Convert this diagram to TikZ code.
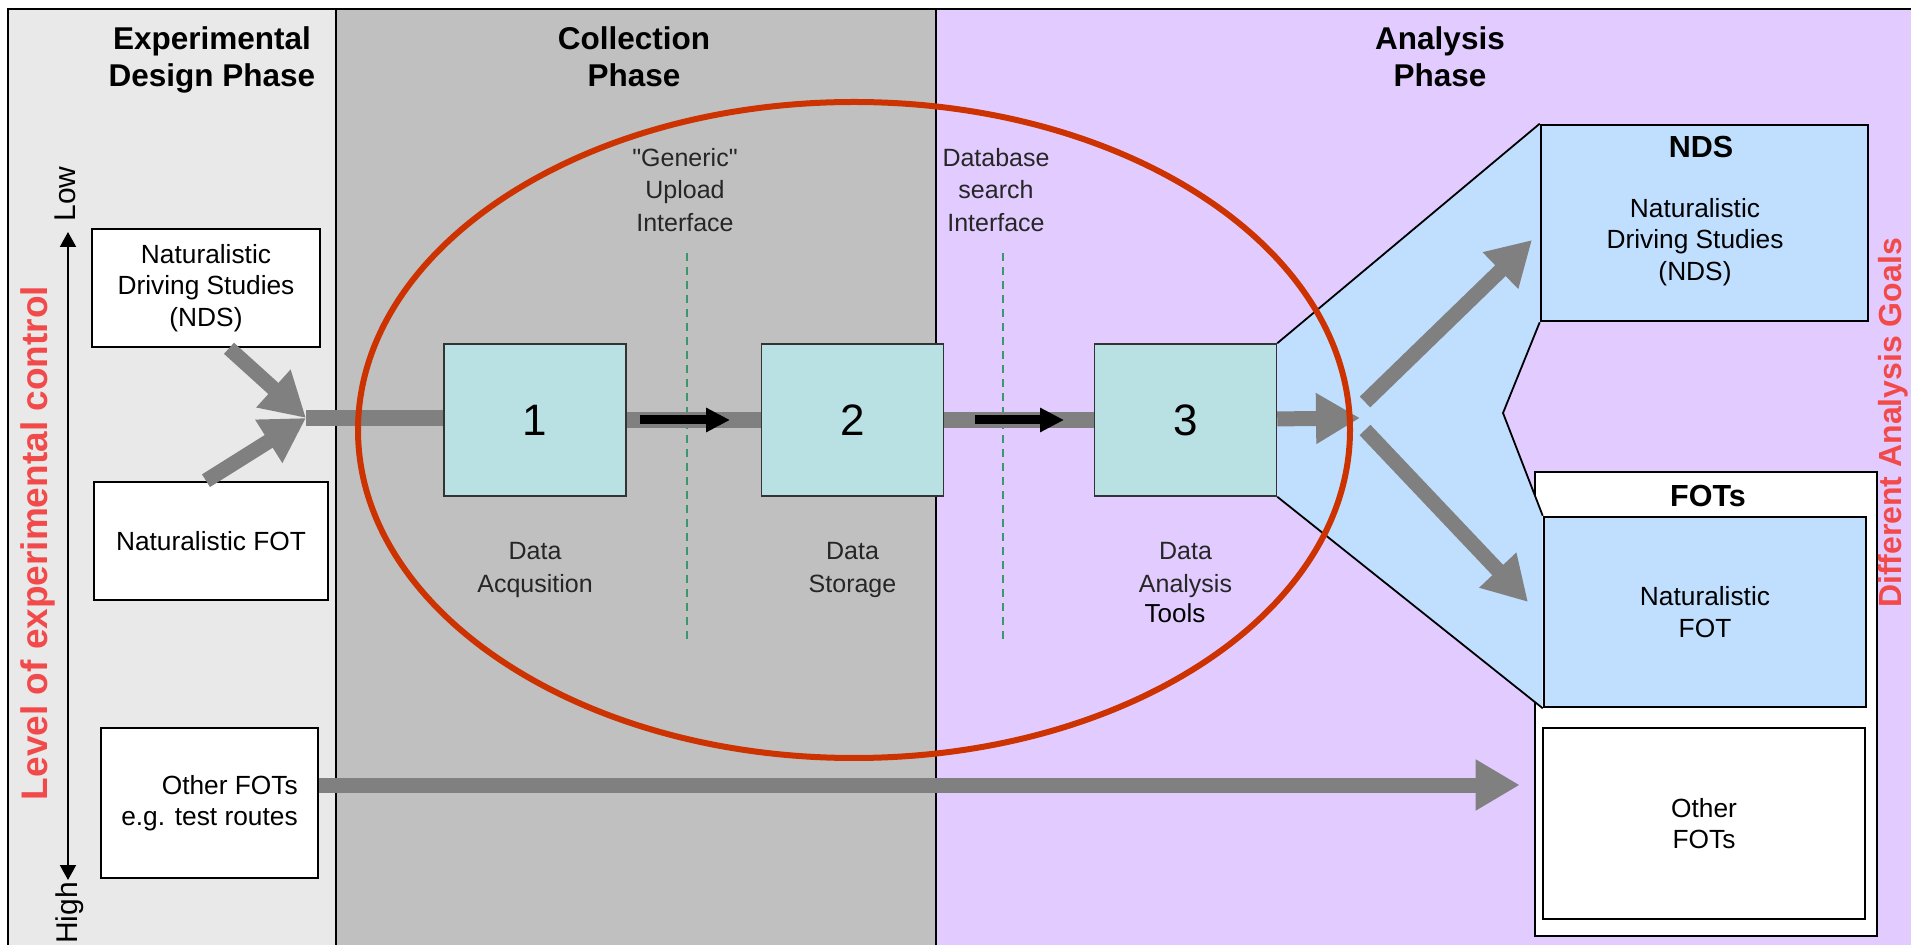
\documentclass[tikz,border=0pt]{standalone}
\usepackage{fontspec}
\setmainfont{Liberation Sans}
\usepackage{tikz}
\usetikzlibrary{arrows.meta,positioning}
\usepackage{xcolor}
\definecolor{designgray}{RGB}{233,233,233}
\definecolor{collectgray}{RGB}{192,192,192}
\definecolor{lavender}{RGB}{226,204,255}
\definecolor{tealbox}{RGB}{185,224,227}
\definecolor{goalblue}{RGB}{192,223,254}
\definecolor{flowgray}{RGB}{128,128,128}
\definecolor{ringred}{RGB}{204,51,0}
\definecolor{axisred}{RGB}{242,74,74}
\definecolor{dashgreen}{RGB}{60,150,110}
\newcommand{\sq}{\XeTeXglyph\XeTeXcharglyph34\relax}
\pgfdeclarelayer{back}
\pgfdeclarelayer{mid}
\pgfsetlayers{back,mid,main}
\tikzstyle{phase} = [font=\fontsize{15.75}{18.5}\selectfont\bfseries, align=center]
\tikzstyle{study} = [rectangle, draw, line width=1.3pt, fill=white, align=center, font=\fontsize{13.15}{15.8}\selectfont]
\tikzstyle{goal} = [study, fill=goalblue]
\tikzstyle{block} = [rectangle, draw=black!80, line width=0.75pt, fill=tealbox, minimum width=91pt, minimum height=76pt, font=\fontsize{22}{22}\selectfont]
\tikzstyle{note} = [align=center, text=black!85, font=\fontsize{12.5}{16.5}\selectfont]
\tikzstyle{title} = [font=\fontsize{15.25}{18}\selectfont\bfseries]
\tikzstyle{axislabel} = [rotate=90, font=\fontsize{15}{18}\selectfont]
\tikzstyle{line} = [draw, line width=8pt, color=flowgray]
\tikzstyle{fat} = [line, line width=7.5pt, -{Triangle[width=24pt,length=22pt]}]
\tikzstyle{push} = [draw, line width=4.5pt, -{Triangle[width=11.5pt,length=12pt]}]
\tikzstyle{updown} = [draw, line width=1pt, {Triangle[width=8pt,length=7.5pt]}-{Triangle[width=8pt,length=7.5pt]}]
\tikzstyle{cut} = [draw=dashgreen, line width=0.7pt, dash pattern=on 4pt off 3pt]

\begin{document}
\begin{tikzpicture}[x=0.5pt, y=-0.5pt]
	\useasboundingbox (0,0) rectangle (1911,945);
	%% phase columns
	\begin{pgfonlayer}{back}
		\fill[white] (0,0) rectangle (1911,945);
		\fill[designgray] (8,9) rectangle (336,945);
		\fill[collectgray] (336,9) rectangle (936,945);
		\fill[lavender] (936,9) rectangle (1911,945);
		\draw[line width=1.3pt] (1911,9) -- (8,9) -- (8,945);
		\draw[line width=1.1pt] (336,9) -- (336,945);
		\draw[line width=1.1pt] (936,9) -- (936,945);
		%% FOTs frame
		\node[study, minimum width=171pt, minimum height=232pt] (fotsR) at (1706,704) {};
	\end{pgfonlayer}
	%% phase headers
	\node[phase] (design) at (212,60) {Experimental\\Design Phase};
	\node[phase] (collect) at (634,57) {Collection\\Phase};
	\node[phase] (analyse) at (1440,57) {Analysis\\Phase};
	%% experimental control axis
	\node[axislabel] (low) at (65,194) {Low};
	\node[axislabel] (high) at (70,913) {High};
	\node[axislabel, font=\fontsize{18.5}{20}\selectfont\bfseries, text=axisred] (control) at (38,543) {Level of experimental control};
	\coordinate (lowEnd) at (68,232);
	\coordinate (highEnd) at (68,880);
	\path[updown] (lowEnd) -- (highEnd);
	%% NDS study
	\node[study, minimum width=114pt, minimum height=59pt] (ndsL) at (206,288) {Naturalistic\\Driving Studies\\(NDS)};
	%% naturalistic FOT study
	\node[study, minimum width=117pt, minimum height=59pt] (fotL) at (211,541) {Naturalistic FOT};
	%% other FOTs study
	\node[study, align=right, minimum width=108.5pt, minimum height=75pt] (othL) at (209.5,803) {Other FOTs\\e.g. test routes};
	%% data blocks
	\node[block] (b1) at (535,420) {1};
	\node[block, right of=b1, node distance=158.75pt] (b2) {2};
	\node[block, right of=b2, node distance=166.5pt] (b3) {3};
	%% block captions
	\node[note, below of=b1, node distance=74.75pt] (acq) {Data\\Acqusition};
	\node[note, below of=b2, node distance=74.75pt] (store) {Data\\Storage};
	\node[note, below of=b3, node distance=74.75pt] (anal) {Data\\Analysis};
	\node[font=\fontsize{13}{15}\selectfont] (tools) at (1175,613) {Tools};
	%% interfaces
	\node[note, font=\fontsize{12.5}{16.25}\selectfont] (upload) at (685,190) {\sq Generic\sq\\Upload\\Interface};
	\node[note, font=\fontsize{12.5}{16.25}\selectfont] (search) at (996,190) {Database\\search\\Interface};
	\draw[cut] (687,253) -- (687,640);
	\draw[cut] (1003,253) -- (1003,640);
	%% NDS goal
	\node[goal, minimum width=163.5pt, minimum height=98pt] (ndsR) at (1704.5,223) {};
	\node[title] (ndsT) at (1701,147) {NDS};
	\node[align=center, font=\fontsize{13.15}{15.8}\selectfont] (ndsB) at (1695,242) {Naturalistic\\Driving Studies\\(NDS)};
	%% FOTs goals
	\node[title] (fotsT) at (1708,496) {FOTs};
	\node[goal, minimum width=161pt, minimum height=95pt] (nfotR) at (1705,612) {Naturalistic\\FOT};
	\node[study, minimum width=161pt, minimum height=95.5pt] (othR) at (1704,823.5) {Other\\FOTs};
	\node[rotate=90, font=\fontsize{16}{18}\selectfont\bfseries, text=axisred] (goals) at (1893,423) {Different Analysis Goals};
	%% zoom wedge
	\coordinate (notch) at (1503,413);
	\begin{pgfonlayer}{mid}
		\fill[goalblue] (b3.north east) -- (ndsR.north west) -- (ndsR.south west) -- (notch) -- (nfotR.north west) -- (nfotR.south west) -- (b3.south east) -- cycle;
		\draw[line width=0.9pt] (b3.north east) -- (ndsR.north west);
		\draw[line width=0.9pt] (ndsR.south west) -- (notch) -- (nfotR.north west);
		\draw[line width=0.9pt] (nfotR.south west) -- (b3.south east);
	\end{pgfonlayer}
	%% edges
	\coordinate (merge) at (306,418);
	\coordinate (split) at (1360,418);
	\coordinate (splitN) at (1365,402);
	\coordinate (splitF) at (1365,430);
	\coordinate (tipN) at (1532,240);
	\coordinate (tipF) at (1528,602);
	\path[fat] ([xshift=11.5pt]ndsL.south) -- (merge);
	\path[fat] ([xshift=-2.5pt]fotL.north) -- (merge);
	\path[line] (merge) -- (merge -| b1.west);
	\path[line] (b1) -- (b2);
	\path[line] (b2) -- (b3);
	\path[fat] (b3) -- (split);
	\path[fat] (splitN) -- (tipN);
	\path[fat] (splitF) -- (tipF);
	\path[fat, shorten >=7pt] ([yshift=9pt]othL.east) -- ([yshift=9pt]othL.east -| fotsR.west);
	%% transfer arrows
	\coordinate (a1s) at (640,420);
	\coordinate (a1e) at (730,420);
	\coordinate (a2s) at (975,420);
	\coordinate (a2e) at (1064,420);
	\path[push] (a1s) -- (a1e);
	\path[push] (a2s) -- (a2e);
	%% collection ring
	\draw[ringred, line width=3pt] (854,430) ellipse [x radius=496, y radius=328];
\end{tikzpicture}
\end{document}
